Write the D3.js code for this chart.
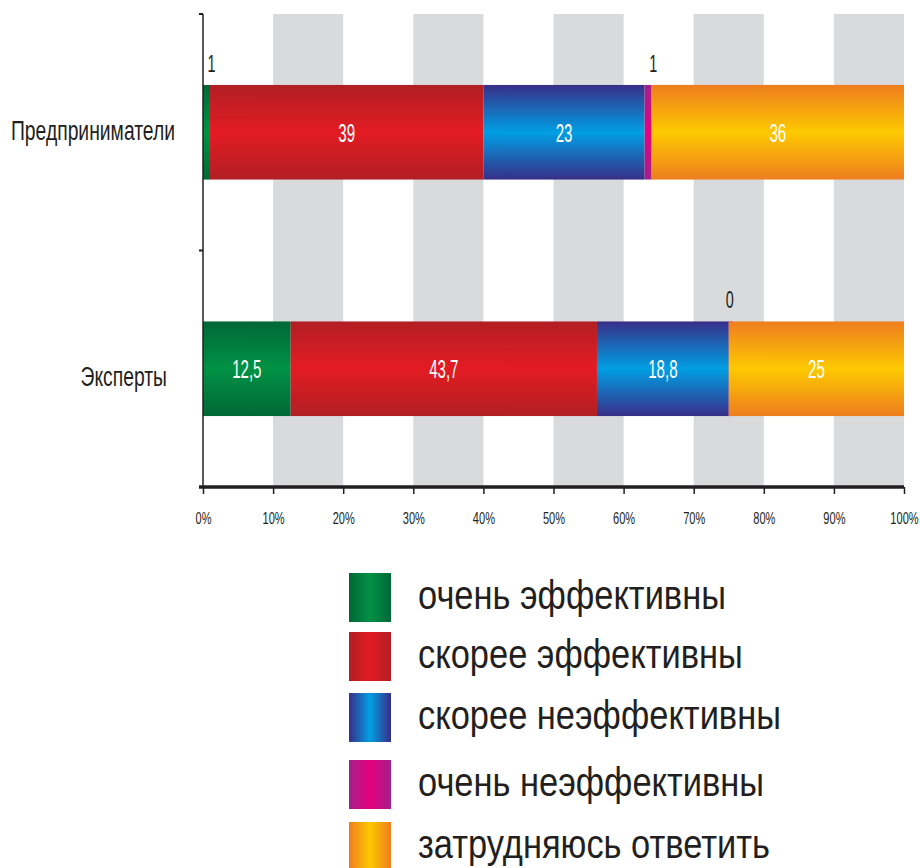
<!DOCTYPE html>
<html>
<head>
<meta charset="utf-8">
<script src="https://cdn.jsdelivr.net/npm/d3@7"></script>
<style>
  body { margin: 0; background: #fff; }
  text { font-family: 'Liberation Sans', Arial, sans-serif; }
</style>
</head>
<body>
<svg id="chart" width="920" height="868"></svg>
<script>
const categories = ['Предприниматели', 'Эксперты']
const seriesNames = ['очень эффективны', 'скорее эффективны', 'скорее неэффективны', 'очень неэффективны', 'затрудняюсь ответить']
const seriesValues = [
  [1, 39, 23, 1, 36],
  [12.5, 43.7, 18.8, 0, 25]
]
const valueLabels = [
  ['1', '39', '23', '1', '36'],
  ['12,5', '43,7', '18,8', '0', '25']
]
const xTickValues = [0, 10, 20, 30, 40, 50, 60, 70, 80, 90, 100]

// gradient stops: edge, middle
const palette = [
  ['#006837', '#009245'],
  ['#b11f24', '#e31b23'],
  ['#382e88', '#009fe3'],
  ['#a3208c', '#e6007e'],
  ['#ee7d1f', '#fdc900']
]

const svg = d3.select('#chart')
const plotLeft = 203
const plotRight = 904
const plotTop = 14
const plotBottom = 487
const ink = '#231f20'

const x = d3.scaleLinear().domain([0, 100]).range([plotLeft, plotRight])
const y = d3.scaleBand().domain(categories).range([plotTop, plotBottom])
  .paddingInner(0.6).paddingOuter(0.3)

// the source font is a condensed face, squeeze the regular one
const squeeze = (tx, ty, s) => `translate(${tx},${ty}) scale(${s},1)`

const defs = svg.append('defs')
palette.forEach((c, i) => {
  const v = defs.append('linearGradient').attr('id', `gv${i}`)
    .attr('x1', 0).attr('y1', 0).attr('x2', 0).attr('y2', 1)
  v.append('stop').attr('offset', '0%').attr('stop-color', c[0])
  v.append('stop').attr('offset', '50%').attr('stop-color', c[1])
  v.append('stop').attr('offset', '100%').attr('stop-color', c[0])
  const h = defs.append('linearGradient').attr('id', `gh${i}`)
    .attr('x1', 0).attr('y1', 0).attr('x2', 1).attr('y2', 0)
  h.append('stop').attr('offset', '0%').attr('stop-color', c[0])
  h.append('stop').attr('offset', '50%').attr('stop-color', c[1])
  h.append('stop').attr('offset', '100%').attr('stop-color', c[0])
})

// grey stripes
svg.append('g').selectAll('rect')
  .data(xTickValues.filter((d, i) => i % 2 === 1 && d < 100))
  .join('rect')
  .attr('x', d => x(d))
  .attr('y', plotTop)
  .attr('width', d => x(d + 10) - x(d))
  .attr('height', plotBottom - plotTop)
  .attr('fill', '#d9dadb')

// bars
const stackData = categories.map((cat, ci) => {
  let acc = 0
  return seriesValues[ci].map((v, si) => {
    const d = { cat, si, v, label: valueLabels[ci][si], x0: acc, x1: acc + v }
    acc += v
    return d
  })
})

const groups = svg.append('g').selectAll('g')
  .data(stackData)
  .join('g')

groups.selectAll('rect')
  .data(d => d)
  .join('rect')
  .attr('x', d => x(d.x0))
  .attr('y', d => y(d.cat))
  .attr('width', d => Math.max(x(d.x1) - x(d.x0), d.v === 0 ? 4 : 0))
  .attr('height', y.bandwidth())
  .attr('fill', d => `url(#gv${d.si})`)

groups.selectAll('text')
  .data(d => d)
  .join('text')
  .attr('transform', d => {
    const mid = (x(d.x0) + x(d.x1)) / 2
    if (d.v < 5) return squeeze(mid + (d.v > 0 ? 5 : 1), y(d.cat) - 13, 0.6)
    return squeeze(mid, y(d.cat) + y.bandwidth() / 2 + 9.5, 0.58)
  })
  .attr('text-anchor', 'middle')
  .attr('font-size', d => d.v < 5 ? 24 : 26)
  .attr('fill', d => d.v < 5 ? ink : '#fff')
  .text(d => d.label)

// category labels
const catShift = [[175, 8], [167, 17.5]]
svg.append('g').selectAll('text')
  .data(categories)
  .join('text')
  .attr('transform', (d, i) => squeeze(catShift[i][0], y(d) + y.bandwidth() / 2 + catShift[i][1], 0.69))
  .attr('text-anchor', 'end')
  .attr('font-size', 28)
  .attr('fill', ink)
  .text(d => d)

// y axis
const yAx = svg.append('g')
yAx.append('line')
  .attr('x1', plotLeft).attr('x2', plotLeft)
  .attr('y1', plotTop).attr('y2', plotBottom)
  .attr('stroke', ink).attr('stroke-width', 1.5)
yAx.selectAll('line.tick')
  .data([plotTop, (plotTop + plotBottom) / 2])
  .join('line')
  .attr('class', 'tick')
  .attr('x1', plotLeft - 4).attr('x2', plotLeft)
  .attr('y1', d => d).attr('y2', d => d)
  .attr('stroke', ink).attr('stroke-width', 2)

// x axis
const xAxis = d3.axisBottom(x)
  .tickValues(xTickValues)
  .tickFormat(d => d + '%')
  .tickSize(7)
  .tickPadding(18)

const gx = svg.append('g')
  .attr('transform', `translate(0,${plotBottom})`)
  .call(xAxis)
gx.select('.domain')
  .attr('d', `M${plotLeft - 4},0H${plotRight}`)
  .attr('stroke', ink).attr('stroke-width', 3.5)
gx.selectAll('.tick line').attr('stroke', ink).attr('stroke-width', 1.5)
gx.selectAll('.tick text')
  .attr('font-family', "'Liberation Sans', Arial, sans-serif")
  .attr('font-size', 17)
  .attr('fill', ink)
  .attr('transform', 'scale(0.65,1)')

// legend
const legendY = [573, 632, 693, 760, 822]
const legend = svg.append('g').selectAll('g')
  .data(seriesNames)
  .join('g')
  .attr('transform', (d, i) => `translate(349,${legendY[i]})`)
legend.append('rect')
  .attr('width', 42).attr('height', 49)
  .attr('fill', (d, i) => `url(#gh${i})`)
legend.append('text')
  .attr('transform', squeeze(69, 36, 0.84))
  .attr('font-size', 41)
  .attr('fill', ink)
  .text(d => d)
</script>
</body>
</html>
